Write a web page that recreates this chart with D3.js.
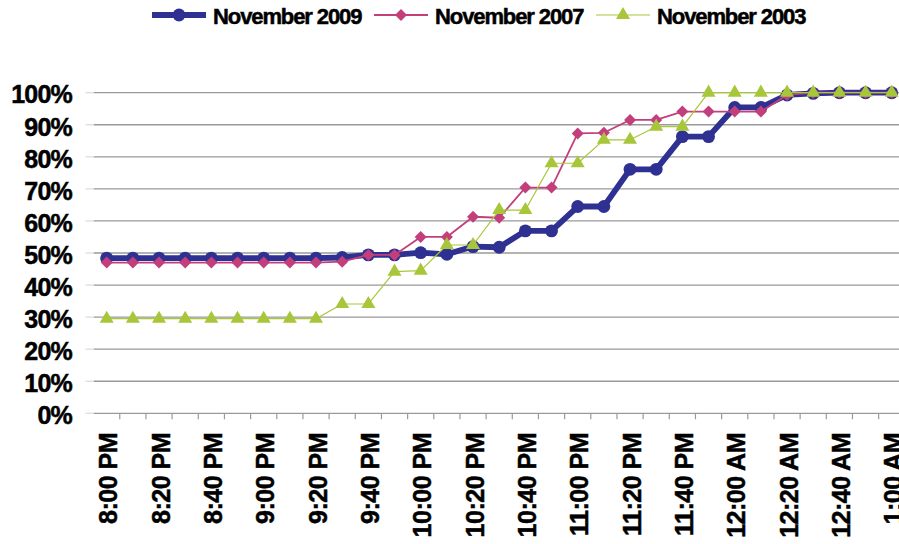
<!DOCTYPE html>
<html>
<head>
<meta charset="utf-8">
<script src="https://cdn.jsdelivr.net/npm/d3@7"></script>
<style>
  html, body { margin: 0; padding: 0; background: #fff; }
  svg text { font-family: "Liberation Sans", Arial, sans-serif; font-weight: bold; fill: #000;
             stroke: #000; stroke-width: 0.5px; }
</style>
</head>
<body>
<div id="chart"></div>
<script>
// ── Data ──────────────────────────────────────────────────────
const CATEGORIES = [
  "8:00 PM", "8:10 PM", "8:20 PM", "8:30 PM", "8:40 PM", "8:50 PM",
  "9:00 PM", "9:10 PM", "9:20 PM", "9:30 PM", "9:40 PM", "9:50 PM",
  "10:00 PM", "10:10 PM", "10:20 PM", "10:30 PM", "10:40 PM", "10:50 PM",
  "11:00 PM", "11:10 PM", "11:20 PM", "11:30 PM", "11:40 PM", "11:50 PM",
  "12:00 AM", "12:10 AM", "12:20 AM", "12:30 AM", "12:40 AM", "12:50 AM",
  "1:00 AM"
];
// every other category carries a label
const TICK_LABELS = [
  "8:00 PM", "8:20 PM", "8:40 PM", "9:00 PM", "9:20 PM", "9:40 PM",
  "10:00 PM", "10:20 PM", "10:40 PM", "11:00 PM", "11:20 PM", "11:40 PM",
  "12:00 AM", "12:20 AM", "12:40 AM", "1:00 AM"
];
const Y_TICKS = [0, 10, 20, 30, 40, 50, 60, 70, 80, 90, 100];

const NOV_2009 = [48.4, 48.4, 48.4, 48.4, 48.4, 48.4, 48.4, 48.4, 48.4, 48.6,
                  49.4, 49.4, 50.1, 49.6, 52.0, 51.8, 56.9, 56.9, 64.5, 64.5,
                  76.1, 76.1, 86.3, 86.3, 95.4, 95.4, 99.3, 99.8, 100, 100, 100];
const NOV_2007 = [47.0, 47.0, 47.0, 47.0, 47.0, 47.0, 47.0, 47.0, 47.0, 47.3,
                  49.4, 49.4, 55.0, 55.0, 61.3, 61.0, 70.4, 70.4, 87.3, 87.5,
                  91.5, 91.5, 94.1, 94.1, 94.1, 94.1, 99.3, 100, 100, 100, 100];
const NOV_2003 = [29.5, 29.5, 29.5, 29.5, 29.5, 29.5, 29.5, 29.5, 29.5, 34.1,
                  34.1, 44.2, 44.5, 52.5, 52.5, 63.4, 63.4, 78.0, 78.0, 85.3,
                  85.3, 89.4, 89.4, 100, 100, 100, 100, 100, 100, 100, 100];

// drawing order: bottom to top
const SERIES = [
  { name: "November 2009", values: NOV_2009, color: "#2E3192", width: 5.8, marker: "circle",   size: 130 },
  { name: "November 2007", values: NOV_2007, color: "#C33F7C", width: 1.8, marker: "diamond",  size: 72 },
  { name: "November 2003", values: NOV_2003, color: "#A8C63A", width: 1.2, marker: "triangle", size: 85 }
];

// ── Layout ───────────────────────────────────────────────────
const W = 899, H = 544;
const PLOT = { left: 93.6, right: 904.8, top: 92.7, bottom: 413.3 };

const svg = d3.select("#chart").append("svg")
  .attr("width", W).attr("height", H);

const x = d3.scalePoint().domain(CATEGORIES).range([PLOT.left, PLOT.right]).padding(0.5);
const y = d3.scaleLinear().domain([0, 100]).range([PLOT.bottom, PLOT.top]);
const step = x.step();

function markerPath(kind, size) {
  if (kind === "circle")   return d3.symbol(d3.symbolCircle, size)();
  if (kind === "triangle") return d3.symbol(d3.symbolTriangle, size)();
  return d3.symbol(d3.symbolSquare, size)();   // rotated 45° below
}
function markerTransform(kind, px, py) {
  return kind === "diamond" ? `translate(${px},${py}) rotate(45)` : `translate(${px},${py})`;
}

// ── Gridlines + y ticks ──────────────────────────────────────
const grid = svg.append("g");
grid.selectAll("line.grid").data(Y_TICKS).join("line")
  .attr("class", "grid")
  .attr("x1", PLOT.left).attr("x2", PLOT.right)
  .attr("y1", d => y(d)).attr("y2", d => y(d))
  .attr("stroke", "#9a9a9a").attr("stroke-width", 1.3);
grid.selectAll("line.ytick").data(Y_TICKS).join("line")
  .attr("class", "ytick")
  .attr("x1", PLOT.left - 8).attr("x2", PLOT.left)
  .attr("y1", d => y(d)).attr("y2", d => y(d))
  .attr("stroke", "#dddddd").attr("stroke-width", 1.3);

svg.append("g").selectAll("text").data(Y_TICKS).join("text")
  .attr("x", 72).attr("y", d => y(d) + 2)
  .attr("dy", "0.35em")
  .attr("text-anchor", "end")
  .attr("font-size", 25)
  .attr("letter-spacing", -0.8)
  .text(d => d + "%");

// ── X axis ticks (between categories) + labels ───────────────
const bounds = CATEGORIES.slice(0, -1).map(c => x(c) + step / 2);
svg.append("g").selectAll("line").data(bounds).join("line")
  .attr("x1", d => d).attr("x2", d => d)
  .attr("y1", PLOT.bottom).attr("y2", PLOT.bottom + 6)
  .attr("stroke", "#9a9a9a").attr("stroke-width", 1.2);

svg.append("g").selectAll("text").data(TICK_LABELS).join("text")
  .attr("transform", d => `translate(${x(d) + 2},433) rotate(-90)`)
  .attr("dy", "0.35em")
  .attr("text-anchor", "end")
  .attr("font-size", 25)
  .attr("letter-spacing", -0.5)
  .text(d => d);

// ── Series ───────────────────────────────────────────────────
const line = d3.line().x((d, i) => x(CATEGORIES[i])).y(d => y(d));

SERIES.forEach(s => {
  const g = svg.append("g");
  g.append("path")
    .attr("d", line(s.values))
    .attr("fill", "none")
    .attr("stroke", s.color)
    .attr("stroke-width", s.width)
    .attr("stroke-linejoin", "round");
  g.selectAll("path.mk").data(s.values).join("path")
    .attr("class", "mk")
    .attr("d", markerPath(s.marker, s.size))
    .attr("transform", (d, i) => markerTransform(s.marker, x(CATEGORIES[i]), y(d)))
    .attr("fill", s.color);
});

// ── Legend ───────────────────────────────────────────────────
const LEGEND_X = [152, 374, 596];
const legend = svg.append("g");
SERIES.forEach((s, i) => {
  const lx = LEGEND_X[i], ly = 15;
  legend.append("line")
    .attr("x1", lx).attr("x2", lx + 54)
    .attr("y1", ly).attr("y2", ly)
    .attr("stroke", s.color).attr("stroke-width", s.width);
  legend.append("path")
    .attr("d", markerPath(s.marker, s.size))
    .attr("transform", markerTransform(s.marker, lx + 27, ly))
    .attr("fill", s.color);
  legend.append("text")
    .attr("x", lx + 61).attr("y", ly + 1)
    .attr("dy", "0.35em")
    .attr("font-size", 22)
    .attr("letter-spacing", -1.1)
    .text(s.name);
});
</script>
</body>
</html>
